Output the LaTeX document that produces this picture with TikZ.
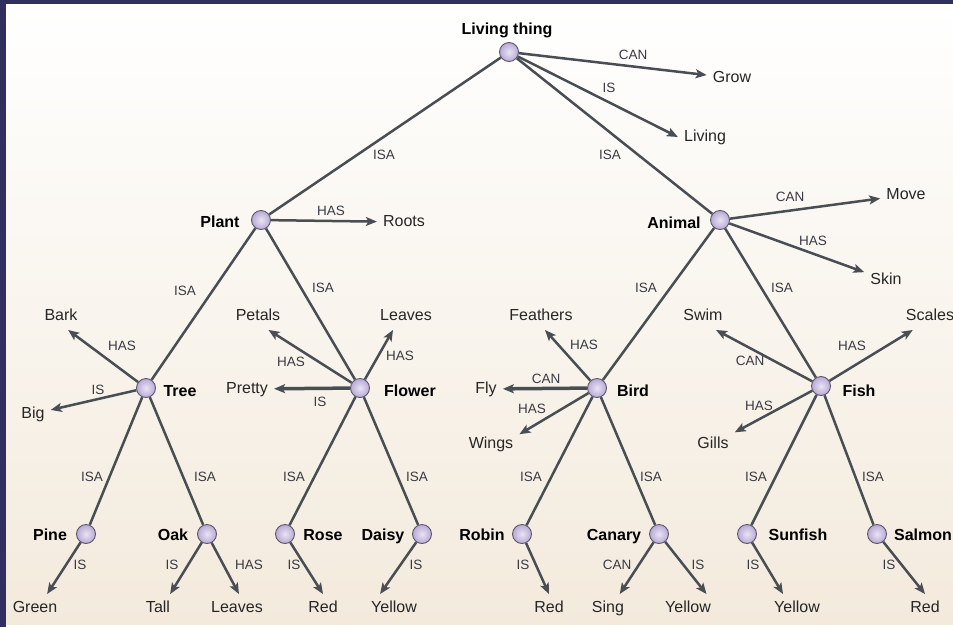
\documentclass[tikz,border=0pt]{standalone}
\usepackage{fontspec}
\setmainfont{Liberation Sans}
\usetikzlibrary{arrows.meta}
\definecolor{framenavy}{RGB}{48,47,94}
\definecolor{linegray}{RGB}{72,78,84}
\definecolor{nodelilac}{RGB}{184,168,214}
\definecolor{nodeedge}{RGB}{90,88,104}
\definecolor{bgbeige}{RGB}{243,234,220}
\definecolor{relgray}{RGB}{58,58,68}

\begin{document}
\begin{tikzpicture}[x=1pt, y=-1pt,
  concept/.style={circle, minimum size=19pt, inner sep=0pt, draw=nodeedge, line width=0.9pt,
    inner color=white!70!nodelilac, outer color=nodelilac},
  cname/.style={font=\fontsize{16}{19}\selectfont\bfseries, text height=12pt, text depth=3.5pt, inner sep=2pt, yshift=-2pt},
  prop/.style={font=\fontsize{16}{19}\selectfont, text=black!85, text height=12pt, text depth=3.5pt, inner sep=6pt, yshift=-2pt},
  rel/.style={font=\fontsize{13.5}{16}\selectfont, text=relgray, inner sep=1pt, yshift=-1pt},
  isa/.style={draw=linegray, line width=2.5pt},
  arr/.style={isa, -{Stealth[length=11pt, width=9pt, inset=2.5pt]}},
  bold arr/.style={arr, line width=3.5pt}]

% Frame and background
\useasboundingbox (0,0) rectangle (953,627);
\fill[white] (0,0) rectangle (953,627);
\fill[top color=white, bottom color=bgbeige] (6,4) rectangle (953,624);
\fill[framenavy] (0,0) rectangle (6,627);
\fill[framenavy] (0,0) rectangle (953,4);

% Concepts
\node[concept] (living) at (509,52) {};
\node[concept] (plant) at (261,220) {};
\node[concept] (animal) at (720,220) {};
\node[concept] (tree) at (146,388) {};
\node[concept] (flower) at (360,388) {};
\node[concept] (bird) at (597,388) {};
\node[concept] (fish) at (821,386) {};
\node[concept] (pine) at (86,534) {};
\node[concept] (oak) at (207,534) {};
\node[concept] (rose) at (285,534) {};
\node[concept] (daisy) at (422,534) {};
\node[concept] (robin) at (522,534) {};
\node[concept] (canary) at (659,534) {};
\node[concept] (sunfish) at (747,534) {};
\node[concept] (salmon) at (877,534) {};

% Concept names
\node[cname] (livingT) at (507,28) {Living thing};
\node[cname] (plantT) at (220,221) {Plant};
\node[cname] (animalT) at (674,222) {Animal};
\node[cname] (treeT) at (180,390) {Tree};
\node[cname] (flowerT) at (410,390) {Flower};
\node[cname] (birdT) at (633,390) {Bird};
\node[cname] (fishT) at (859,390) {Fish};
\node[cname] (pineT) at (50,534) {Pine};
\node[cname] (oakT) at (173,534) {Oak};
\node[cname] (roseT) at (323,534) {Rose};
\node[cname] (daisyT) at (383,534) {Daisy};
\node[cname] (robinT) at (482,534) {Robin};
\node[cname] (canaryT) at (614,534) {Canary};
\node[cname] (sunfishT) at (798,534) {Sunfish};
\node[cname] (salmonT) at (923,534) {Salmon};

% ISA links
\foreach \a/\b in {living/plant, living/animal, plant/tree, plant/flower,
  animal/bird, animal/fish, tree/pine, tree/oak, flower/rose, flower/daisy,
  bird/robin, bird/canary, fish/sunfish, fish/salmon}
  \draw[isa] (\a) -- (\b);

% Properties - top
\node[prop] (grow) at (732,76) {Grow};
\node[prop] (alive) at (705,135) {Living};
\node[prop] (roots) at (404,220) {Roots};
\node[prop] (move) at (906,193) {Move};
\node[prop] (skin) at (886,278) {Skin};
\draw[arr] (living) -- (grow);
\draw[arr] (living) -- (alive.west);
\draw[arr] (plant) -- (roots);
\draw[arr] (animal) -- (move);
\draw[arr] (animal) -- (skin);

% Properties - middle
\node[prop] (bark) at (61,314) {Bark};
\node[prop] (big) at (33,412) {Big};
\node[prop] (petals) at (258,314) {Petals};
\node[prop] (leavesF) at (406,314) {Leaves};
\node[prop] (pretty) at (247,387) {Pretty};
\node[prop] (feathers) at (541,314) {Feathers};
\node[prop] (fly) at (486,387) {Fly};
\node[prop] (wings) at (491,442) {Wings};
\node[prop] (swim) at (703,314) {Swim};
\node[prop] (scales) at (930,314) {Scales};
\node[prop] (gills) at (713,442) {Gills};
\draw[arr] (tree) -- (bark.-63);
\draw[arr] (tree) -- (big);
\draw[arr] (flower) -- (petals.-53);
\draw[arr] (flower) -- (leavesF.-133);
\draw[bold arr] (flower) -- (pretty);
\draw[arr] (bird) -- (feathers.-74);
\draw[bold arr] (bird) -- (fly);
\draw[arr] (bird) -- (wings.19);
\draw[arr] (fish) -- (swim.-47);
\draw[arr] (fish) -- (scales.-141);
\draw[arr] (fish) -- (gills);

% Properties - bottom
\node[prop] (green) at (35,606) {Green};
\node[prop] (tall) at (158,606) {Tall};
\node[prop] (leavesO) at (237,606) {Leaves};
\node[prop] (redR) at (323,606) {Red};
\node[prop] (yellowD) at (394,606) {Yellow};
\node[prop] (redB) at (549,606) {Red};
\node[prop] (sing) at (608,606) {Sing};
\node[prop] (yellowC) at (688,606) {Yellow};
\node[prop] (yellowS) at (797,606) {Yellow};
\node[prop] (redS) at (925,606) {Red};
\draw[arr] (pine) -- (green.49);
\draw[arr] (oak) -- (tall.49);
\draw[arr] (oak) -- (leavesO.82);
\draw[arr] (rose) -- (redR.north);
\draw[arr] (daisy) -- (yellowD.135);
\draw[arr] (robin) -- (redB.north);
\draw[arr] (canary) -- (sing.50);
\draw[arr] (canary) -- (yellowC.37);
\draw[arr] (sunfish) -- (yellowS.135);
\draw[arr] (salmon) -- (redS.north);

% Link labels
\node[rel] (r1) at (633,54) {CAN};
\node[rel] (r2) at (609,87) {IS};
\node[rel] (r3) at (384,154) {ISA};
\node[rel] (r4) at (610,154) {ISA};
\node[rel] (r5) at (331,210) {HAS};
\node[rel] (r6) at (790,196) {CAN};
\node[rel] (r7) at (813,240) {HAS};
\node[rel] (r8) at (185,290) {ISA};
\node[rel] (r9) at (323,287) {ISA};
\node[rel] (r10) at (646,287) {ISA};
\node[rel] (r11) at (782,287) {ISA};
\node[rel] (r12) at (122,345) {HAS};
\node[rel] (r13) at (98,389) {IS};
\node[rel] (r14) at (291,361) {HAS};
\node[rel] (r15) at (400,355) {HAS};
\node[rel] (r16) at (320,401) {IS};
\node[rel] (r17) at (584,344) {HAS};
\node[rel] (r18) at (546,378) {CAN};
\node[rel] (r19) at (532,408) {HAS};
\node[rel] (r20) at (750,360) {CAN};
\node[rel] (r21) at (852,345) {HAS};
\node[rel] (r22) at (759,405) {HAS};
\node[rel] (r23) at (92,476) {ISA};
\node[rel] (r24) at (205,476) {ISA};
\node[rel] (r25) at (294,476) {ISA};
\node[rel] (r26) at (417,476) {ISA};
\node[rel] (r27) at (531,476) {ISA};
\node[rel] (r28) at (651,476) {ISA};
\node[rel] (r29) at (756,476) {ISA};
\node[rel] (r30) at (873,476) {ISA};
\node[rel] (r31) at (80,564) {IS};
\node[rel] (r32) at (172,564) {IS};
\node[rel] (r33) at (249,564) {HAS};
\node[rel] (r34) at (294,564) {IS};
\node[rel] (r35) at (416,564) {IS};
\node[rel] (r36) at (523,564) {IS};
\node[rel] (r37) at (617,564) {CAN};
\node[rel] (r38) at (698,564) {IS};
\node[rel] (r39) at (753,564) {IS};
\node[rel] (r40) at (889,564) {IS};
\end{tikzpicture}
\end{document}
